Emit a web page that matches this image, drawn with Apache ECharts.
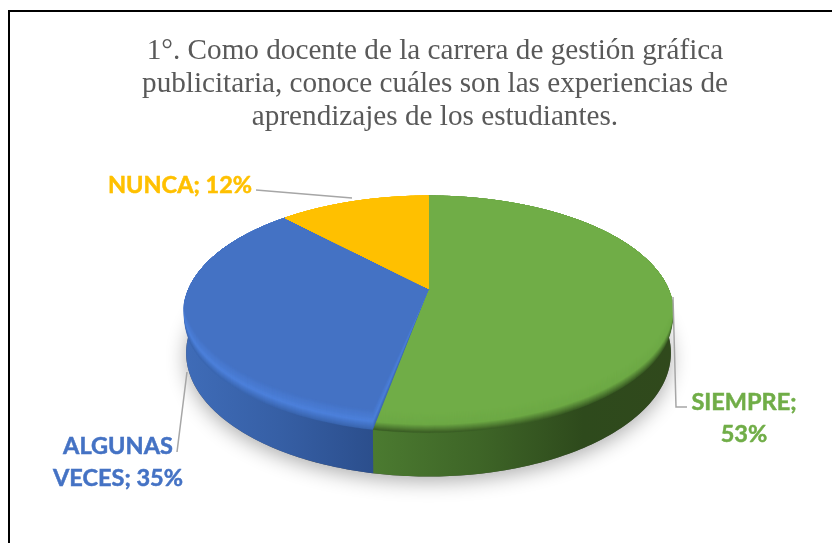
<!DOCTYPE html>
<html><head><meta charset="utf-8">
<style>html,body{margin:0;padding:0;background:#fff}#c{width:832px;height:543px}</style>
<script src="https://cdn.jsdelivr.net/npm/echarts@6/dist/echarts.min.js"></script>
</head><body><div id="c"></div>
<script>
const titleText = '1°. Como docente de la carrera de gestión gráfica\npublicitaria, conoce cuáles son las experiencias de\naprendizajes de los estudiantes.';
const categories = ['SIEMPRE', 'ALGUNAS\nVECES', 'NUNCA'];
const separators = ['\n', ' ', ' '];
const values = [53, 35, 12];

const colors = ['#70AD47', '#4472C4', '#FFC000'];
const rimStops = [
  ['#70AD47', '#6DA945', '#3B5E25'],
  ['#4472C4', '#4C80DB', '#3A66B0'],
  ['#FFC000', '#FFC000', '#FFC000']
];
const sideStops = [
  [[0, '#4B7A30'], [0.35, '#3E6527'], [0.7, '#2E4A1C'], [1, '#30491C']],
  [[0, '#3F6CB8'], [0.5, '#365FA5'], [1, '#2B4E8C']],
  [[0, '#B58900'], [1, '#B58900']]
];
const sideRanges = [[375, 672], [184, 375], [280, 429]];
const labelLayout = [
  { x: 744, y: 418, line: [[673, 297], [676, 407], [687, 407]] },
  { x: 118, y: 462, line: [[177, 452], [187, 372]] },
  { x: 180, y: 185, line: [[256, 190], [352, 198]] }
];

// projective mapping of the pie's circular top face
const CX = 428.5, CY = 288.5, B = 239.5, A = 110.8, K = 0.198, DEPTH = 40, TAPER = 0.992;
function topPt(deg, s) {
  const a = deg * Math.PI / 180, u = Math.sin(a), v = Math.cos(a), w = 1 + K * v;
  const t = Math.max(0, Math.min(1, (-0.02 - v) / 0.4));
  const f = t * t * (3 - 2 * t);
  return [CX + B * u / w, CY - A * v / w + (s || 0) * f];
}
function bottomPt(deg) {
  const p = topPt(deg), w = 1 + K * Math.cos(deg * Math.PI / 180);
  return [CX + (p[0] - CX) * TAPER, p[1] + DEPTH / w];
}
function arc(a0, a1, fn) {
  const pts = [], n = Math.max(2, Math.ceil(Math.abs(a1 - a0)));
  for (let i = 0; i <= n; i++) pts.push(fn(a0 + (a1 - a0) * i / n));
  return pts;
}
const total = values.reduce((a, b) => a + b, 0);
function sliceAngles(i) {
  let before = 0;
  for (let j = 0; j < i; j++) before += values[j];
  return [before / total * 360, (before + values[i]) / total * 360];
}
function renderSlice(params, api) {
  const i = params.dataIndex, range = sliceAngles(i), children = [];
  const s0 = Math.max(range[0], 90), s1 = Math.min(range[1], 270);
  if (s1 > s0) {
    children.push({
      type: 'polygon',
      shape: { points: arc(s0, s1, topPt).concat(arc(s1, s0, bottomPt)) },
      style: { fill: new echarts.graphic.LinearGradient(sideRanges[i][0], 0, sideRanges[i][1], 0,
        sideStops[i].map(st => ({ offset: st[0], color: st[1] })), true) }
    });
  }
  const STEPS = 20, S_OUT = 6, S_PEAK = -2, S_IN = -14;
  for (let k = 0; k <= STEPS; k++) {
    const s = S_OUT + (S_IN - S_OUT) * k / STEPS;
    const stops = rimStops[i];
    const col = s > S_PEAK
      ? echarts.color.lerp((S_OUT - s) / (S_OUT - S_PEAK), [stops[2], stops[1]])
      : echarts.color.lerp((S_PEAK - s) / (S_PEAK - S_IN), [stops[1], stops[0]]);
    children.push({
      type: 'polygon',
      shape: { points: [[CX, CY]].concat(arc(range[0], range[1], d => topPt(d, s))) },
      style: { fill: k === STEPS ? colors[i] : col, stroke: k === STEPS ? colors[i] : col, lineWidth: 0.3 }
    });
  }
  return { type: 'group', children };
}
function renderShadow() {
  return {
    type: 'polygon',
    shape: { points: arc(0, 360, bottomPt) },
    style: { fill: '#555', shadowBlur: 20, shadowColor: 'rgba(0,0,0,0.32)', shadowOffsetY: 5, shadowOffsetX: 0 }
  };
}
function renderLabel(params, api) {
  const i = params.dataIndex, L = labelLayout[i];
  return {
    type: 'group',
    children: [
      { type: 'polyline', shape: { points: L.line }, style: { fill: 'none', stroke: '#A6A6A6', lineWidth: 1.5 } },
      { type: 'text', style: {
          text: categories[i] + ';' + separators[i] + values[i] + '%',
          x: L.x, y: L.y, align: 'center', verticalAlign: 'middle',
          fill: colors[i], stroke: colors[i], lineWidth: 0.5,
          font: 'bold 23.5px Lato', lineHeight: 32
      } }
    ]
  };
}
const chart = echarts.init(document.getElementById('c'), null, { renderer: 'canvas' });
chart.setOption({
  animation: false,
  backgroundColor: '#fff',
  title: {
    text: titleText, left: 430, top: 30, textAlign: 'center',
    textStyle: { fontFamily: 'Liberation Serif', fontWeight: 'normal', fontSize: 29.2, color: '#595959', lineHeight: 33 }
  },
  graphic: [
    { type: 'line', shape: { x1: 9, y1: 10, x2: 9, y2: 543 }, style: { stroke: '#000', lineWidth: 2 } },
    { type: 'line', shape: { x1: 8, y1: 11, x2: 832, y2: 11 }, style: { stroke: '#000', lineWidth: 2 } }
  ],
  series: [
    { type: 'custom', coordinateSystem: 'none', z: 1, data: [total], renderItem: renderShadow, silent: true },
    { type: 'custom', coordinateSystem: 'none', z: 2, data: values, renderItem: renderSlice, silent: true },
    { type: 'custom', coordinateSystem: 'none', z: 3, data: values, renderItem: renderLabel, silent: true }
  ]
});
</script></body></html>
